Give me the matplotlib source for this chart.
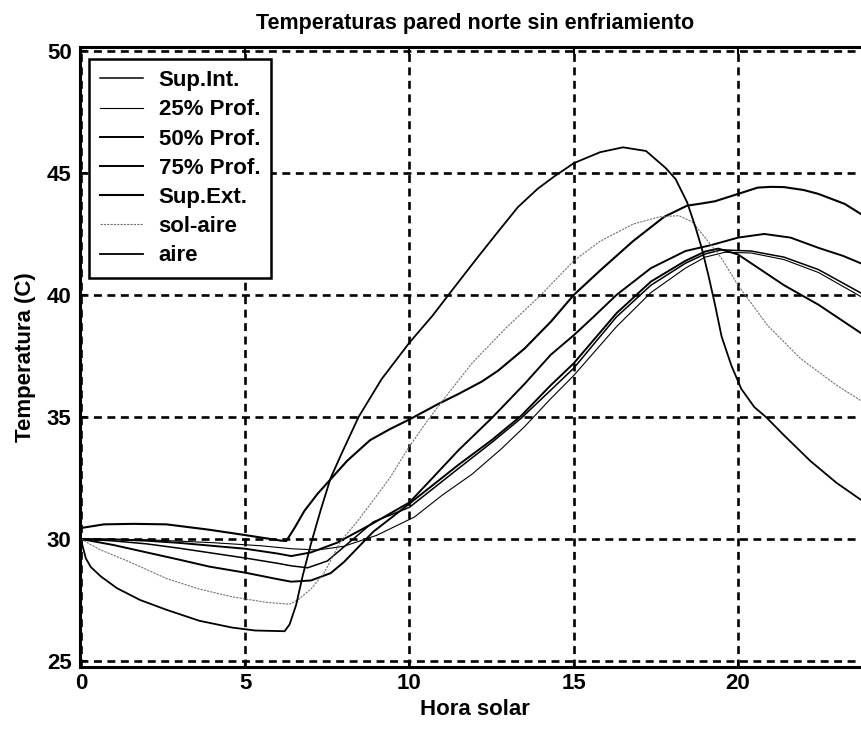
import matplotlib
matplotlib.use('Agg')
import matplotlib.pyplot as plt

plt.rcParams['font.family'] = ['Liberation Sans', 'DejaVu Sans']

# valores (hora solar, temperatura en C)
aire_h = [0, 0.05, 0.15, 0.3, 0.6, 1.1, 1.8, 2.6, 3.6, 4.6, 5.3, 6.2, 6.35, 6.55, 6.75,
          7.0, 7.3, 7.6, 7.95, 8.45, 9.15, 10.0, 10.7, 11.3, 12.05, 12.7, 13.3, 13.9,
          14.4, 15.0, 15.8, 16.5, 17.2, 17.8, 18.1, 18.45, 18.7, 18.9, 19.1, 19.3, 19.5,
          19.8, 20.1, 20.5, 20.85, 21.4, 22.2, 23.0, 23.8, 24.0]
aire_t = [30.0, 29.7, 29.2, 28.85, 28.47, 27.98, 27.5, 27.1, 26.65, 26.37, 26.25, 26.22,
          26.5, 27.3, 28.5, 29.8, 31.2, 32.5, 33.55, 35.0, 36.55, 38.05, 39.15, 40.2, 41.5,
          42.6, 43.6, 44.35, 44.85, 45.4, 45.85, 46.05, 45.9, 45.2, 44.75, 43.8, 42.8, 41.9,
          40.8, 39.6, 38.3, 37.1, 36.15, 35.4, 35.0, 34.25, 33.2, 32.3, 31.55, 31.35]

solaire_h = [0, 0.55, 1.5, 2.6, 3.6, 4.6, 5.66, 6.35, 6.6, 7.0, 7.4, 7.9, 8.4, 8.85, 9.4,
             10.0, 10.6, 11.2, 11.9, 12.9, 14.0, 15.0, 15.8, 16.8, 17.6, 18.2, 18.6, 19.0,
             19.5, 20.0, 20.9, 21.9, 23.0, 24.0]
solaire_t = [30.0, 29.58, 29.05, 28.38, 27.95, 27.63, 27.4, 27.33, 27.5, 27.95, 28.6, 29.9,
             30.7, 31.5, 32.5, 33.8, 34.95, 36.0, 37.2, 38.6, 40.0, 41.4, 42.2, 42.9, 43.2,
             43.25, 43.0, 42.35, 41.5, 40.4, 38.75, 37.4, 36.3, 35.45]

ext_h = [0, 0.7, 1.6, 2.6, 3.9, 5.0, 6.1, 6.25, 6.5, 6.8, 7.2, 7.6, 8.1, 8.8, 9.4, 10.0,
         10.9, 11.5, 12.2, 12.7, 13.5, 14.3, 15.0, 15.8, 16.8, 17.75, 18.45, 18.9, 19.3,
         20.0, 20.6, 21.0, 21.4, 22.0, 22.45, 23.25, 24.0]
ext_t = [30.45, 30.6, 30.62, 30.6, 30.38, 30.16, 29.93, 29.92, 30.45, 31.15, 31.85, 32.45,
         33.2, 34.05, 34.5, 34.9, 35.55, 35.95, 36.45, 36.9, 37.8, 38.9, 40.0, 41.0, 42.2,
         43.2, 43.66, 43.75, 43.84, 44.14, 44.4, 44.43, 44.42, 44.3, 44.14, 43.73, 43.1]

p75_h = [0, 1.0, 2.0, 3.0, 4.0, 5.0, 6.0, 6.4, 7.0, 7.8, 8.9, 10.0, 10.7, 11.5, 12.5, 13.5,
         14.3, 15.0, 15.6, 16.3, 17.35, 18.4, 19.2, 20.0, 20.8, 21.6, 22.45, 23.2, 24.0]
p75_t = [30.0, 29.98, 29.93, 29.84, 29.72, 29.6, 29.4, 29.3, 29.45, 29.85, 30.65, 31.5,
         32.5, 33.65, 34.95, 36.35, 37.55, 38.35, 39.1, 40.0, 41.1, 41.8, 42.05, 42.35,
         42.5, 42.35, 41.93, 41.6, 41.15]

p50_h = [0, 1.0, 1.9, 3.0, 3.9, 5.0, 6.0, 6.4, 7.0, 7.6, 8.0, 8.9, 10.0, 11.5, 12.5, 13.4,
         14.3, 15.0, 16.3, 17.35, 18.4, 19.0, 19.4, 20.0, 21.4, 22.45, 23.85, 24.0]
p50_t = [30.0, 29.75, 29.48, 29.15, 28.87, 28.62, 28.35, 28.25, 28.3, 28.6, 29.05, 30.3,
         31.45, 33.05, 34.05, 35.05, 36.3, 37.2, 39.25, 40.55, 41.4, 41.78, 41.9, 41.66,
         40.4, 39.6, 38.34, 38.2]

int_h = [0, 1.0, 2.0, 3.0, 4.0, 5.0, 6.0, 6.4, 6.9, 7.5, 8.2, 8.9, 10.0, 11.5, 12.5, 13.4,
         14.3, 15.0, 16.3, 17.35, 18.4, 19.0, 19.5, 20.4, 21.4, 22.45, 23.85, 24.0]
int_t = [30.0, 29.92, 29.8, 29.62, 29.42, 29.22, 29.0, 28.9, 28.82, 29.1, 29.9, 30.7, 31.3,
         32.9, 33.95, 34.95, 36.1, 37.0, 39.1, 40.4, 41.3, 41.68, 41.85, 41.8, 41.55, 41.04,
         40.0, 39.85]

p25_h = [0, 2.0, 4.0, 5.5, 6.4, 7.2, 8.0, 9.0, 10.15, 11.0, 11.9, 12.8, 13.5, 14.3, 15.0,
         16.3, 17.35, 18.4, 19.0, 19.6, 20.4, 21.4, 22.45, 23.85, 24.0]
p25_t = [30.0, 29.97, 29.85, 29.72, 29.6, 29.55, 29.7, 30.15, 30.9, 31.8, 32.65, 33.7, 34.6,
         35.75, 36.7, 38.7, 40.1, 41.1, 41.55, 41.75, 41.72, 41.45, 40.92, 39.85, 39.7]

xticks = [0, 5, 10, 15, 20]
yticks = [25, 30, 35, 40, 45, 50]

fig = plt.figure(figsize=(8.62, 7.33), dpi=100)
ax = fig.add_axes([0.0928, 0.0899, 0.9158, 0.8456])

ax.plot(int_h, int_t, color='black', lw=1.1, label='Sup.Int.')
ax.plot(p25_h, p25_t, color='black', lw=0.8, label='25% Prof.')
ax.plot(p50_h, p50_t, color='black', lw=1.4, label='50% Prof.')
ax.plot(p75_h, p75_t, color='black', lw=1.4, label='75% Prof.')
ax.plot(ext_h, ext_t, color='black', lw=1.5, label='Sup.Ext.')
ax.plot(solaire_h, solaire_t, color='0.45', lw=0.8, linestyle=(0, (2, 1)), label='sol-aire')
ax.plot(aire_h, aire_t, color='black', lw=1.3, label='aire')

ax.set_xlim(-0.03, 24)
ax.set_ylim(24.75, 50.15)
ax.set_xticks(xticks)
ax.set_yticks(yticks)
ax.grid(True, color='black', linestyle=(0, (3.0, 2.1)), linewidth=1.9)
ax.set_axisbelow(True)

for s in ax.spines.values():
    s.set_linewidth(2.2)

ax.tick_params(direction='in', length=5, width=1.5, top=True, labelsize=16)
ax.tick_params(axis='y', pad=6)
ax.tick_params(axis='x', pad=4)
for lab in ax.get_xticklabels() + ax.get_yticklabels():
    lab.set_fontweight('bold')

ax.set_title('Temperaturas pared norte sin enfriamiento', fontsize=15.5, fontweight='bold', pad=13)
ax.set_xlabel('Hora solar', fontsize=16, fontweight='bold', labelpad=4)
ax.set_ylabel('Temperatura (C)', fontsize=16, fontweight='bold', labelpad=8)

leg = ax.legend(loc='upper left', bbox_to_anchor=(0.0108, 0.981), borderaxespad=0,
                fancybox=False, framealpha=1, edgecolor='black',
                prop={'size': 16, 'weight': 'bold'}, labelspacing=0.37,
                handlelength=1.95, handletextpad=0.7, borderpad=0.5)
leg.get_frame().set_linewidth(1.8)

plt.savefig('out.png', dpi=100)
